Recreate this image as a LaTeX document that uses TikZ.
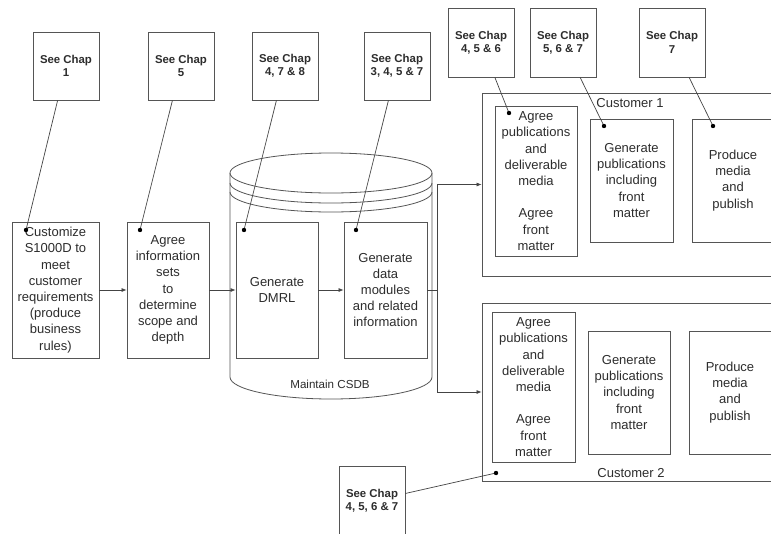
\documentclass[tikz,border=0pt]{standalone}
\usepackage{fontspec}
\setmainfont{Liberation Sans}
\usetikzlibrary{arrows.meta}
\definecolor{ln}{RGB}{85,85,85}
\definecolor{tx}{RGB}{45,45,45}
\tikzset{
  box/.style={draw=ln, line width=0.8pt, rectangle, inner sep=0pt, align=center, text=tx,
    font=\fontsize{13}{16.2}\selectfont},
  chapbox/.style={draw=ln, line width=0.8pt, rectangle, inner sep=0pt, align=center, text=tx,
    minimum width=66pt, font=\fontsize{11.4}{13.4}\selectfont\bfseries},
  conn/.style={draw=ln!80!black, line width=0.7pt},
  arr/.style={draw=ln!80!black, line width=0.7pt, -{Latex[length=5pt,width=4pt]}},
  dotc/.style={fill=black},
  lbl/.style={text=tx, inner sep=0pt}
}
\begin{document}
\begin{tikzpicture}[x=1pt,y=-1pt]
\useasboundingbox (0,0) rectangle (771,533);
\clip (0,0) rectangle (771,533);
\fill[white] (0,0) rectangle (771,533);

% cylinder (CSDB)
\draw[ln, line width=0.8pt] (331,173) ellipse [x radius=101pt, y radius=20pt];
\draw[ln, line width=0.8pt] (230,183) arc[start angle=180, end angle=360, x radius=101pt, y radius=20pt];
\draw[ln, line width=0.8pt] (230,192) arc[start angle=180, end angle=360, x radius=101pt, y radius=20pt];
\draw[ln, line width=0.8pt] (230,173) -- (230,377) arc[start angle=180, end angle=360, x radius=101pt, y radius=22pt] -- (432,173);
\node[lbl, font=\fontsize{11.6}{13}\selectfont] (csdb) at (330,384) {Maintain CSDB};

% chapter boxes
\node[chapbox, minimum height=68pt] (chap1) at (66,66) {See Chap\\1};
\node[chapbox, minimum height=68pt] (chap5) at (181,66) {See Chap\\5};
\node[chapbox, minimum height=68pt] (chap478) at (285,66) {See Chap\\4, 7 \& 8};
\node[chapbox, minimum height=68pt] (chap3457) at (397,66) {See Chap\\3, 4, 5 \& 7};
\node[chapbox, minimum height=69pt] (chap456) at (481,42.5) {See Chap\\4, 5 \& 6};
\node[chapbox, minimum height=69pt] (chap567) at (563,42.5) {See Chap\\5, 6 \& 7};
\node[chapbox, minimum height=69pt] (chap7) at (672,42.5) {See Chap\\7};
\node[chapbox, minimum height=70pt] (chapB) at (372,501) {See Chap\\4, 5, 6 \& 7};

% process boxes
\node[box, minimum width=87pt, minimum height=136pt] (custom) at (55.5,290)
  {Customize\\S1000D to\\meet\\customer\\requirements\\(produce\\business\\rules)};
\node[box, minimum width=82pt, minimum height=136pt] (agreeinfo) at (168,290)
  {Agree\\information\\sets\\to\\determine\\scope and\\depth};
\node[box, minimum width=82pt, minimum height=136pt] (dmrl) at (277,290)
  {Generate\\DMRL};
\node[box, minimum width=83pt, minimum height=136pt] (dm) at (385.5,290)
  {Generate\\data\\modules\\and related\\information};

% customer 1
\node[box, minimum width=298pt, minimum height=183pt] (cust1) at (631,184.5) {};
\node[lbl, font=\fontsize{13}{16}\selectfont] (c1lbl) at (630,103) {Customer 1};
\node[box, minimum width=82pt, minimum height=150pt] (agreepub1) at (536,181)
  {Agree\\publications\\and\\deliverable\\media\\[16.2pt]Agree\\front\\matter};
\node[box, minimum width=83pt, minimum height=123pt] (genpub1) at (631.5,180.5)
  {Generate\\publications\\including\\front\\matter};
\node[box, minimum width=82pt, minimum height=123pt] (produce1) at (733,180.5)
  {Produce\\media\\and\\publish};

% customer 2
\node[box, minimum width=298pt, minimum height=178pt] (cust2) at (631,392) {};
\node[lbl, font=\fontsize{13}{16}\selectfont] (c2lbl) at (631,473) {Customer 2};
\node[box, minimum width=83pt, minimum height=150pt] (agreepub2) at (533.5,387)
  {Agree\\publications\\and\\deliverable\\media\\[16.2pt]Agree\\front\\matter};
\node[box, minimum width=82pt, minimum height=123pt] (genpub2) at (629,392.5)
  {Generate\\publications\\including\\front\\matter};
\node[box, minimum width=82pt, minimum height=123pt] (produce2) at (730,392.5)
  {Produce\\media\\and\\publish};

% flow arrows
\draw[arr] (custom.east) -- (agreeinfo.west);
\draw[arr] (agreeinfo.east) -- (dmrl.west);
\draw[arr] (dmrl.east) -- (dm.west);
\coordinate (junc) at (437,290);
\draw[conn] (dm.east) -- (junc);
\draw[arr] (junc) |- (cust1.west);
\draw[arr] (junc) |- (cust2.west);

% reference connectors with dots
\coordinate (d1) at (26,230);
\coordinate (d2) at (140,230);
\coordinate (d3) at (244,230);
\coordinate (d4) at (356,230);
\coordinate (d5) at (509,113);
\coordinate (d6) at (604,126);
\coordinate (d7) at (713,126);
\coordinate (d8) at (496,473);
\draw[conn] (chap1) -- (d1);
\draw[conn] (chap5) -- (d2);
\draw[conn] (chap478) -- (d3);
\draw[conn] (chap3457) -- (d4);
\draw[conn] (chap456) -- (d5);
\draw[conn] (chap567) -- (d6);
\draw[conn] (chap7) -- (d7);
\draw[conn] (chapB) -- (d8);
\foreach \d in {d1,d2,d3,d4,d5,d6,d7,d8} \fill[black] (\d) circle (2.2pt);
\end{tikzpicture}
\end{document}
